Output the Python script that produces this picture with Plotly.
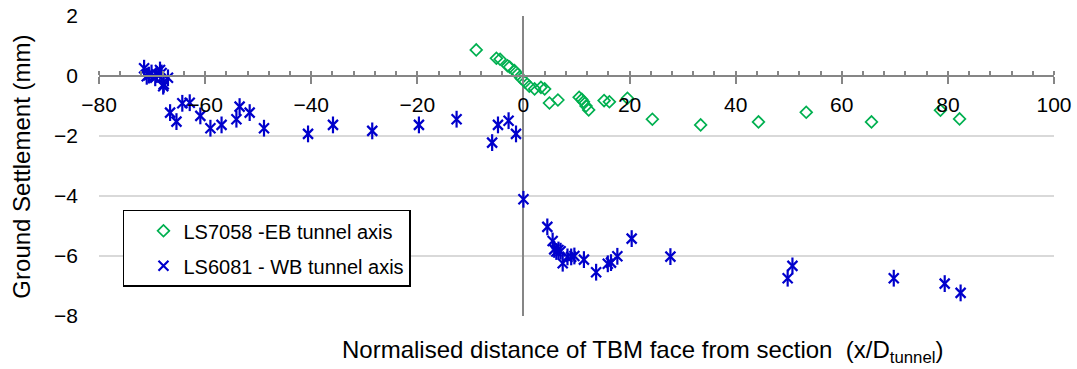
import plotly.graph_objects as go

# EB tunnel axis (LS7058) - diamonds
eb_x = [-8.9, -5.1, -4.4, -3.0, -2.6, -1.7, -1.1, -0.4, 0.3, 1.1, 2.1, 3.3, 4.0, 4.9, 6.5,
        10.5, 11.0, 11.3, 11.8, 12.3, 15.2, 16.2, 19.6, 24.3, 33.4, 44.3, 53.3, 65.6, 78.6, 82.2]
eb_y = [0.87, 0.59, 0.56, 0.34, 0.30, 0.18, 0.06, -0.08, -0.20, -0.34, -0.43, -0.38, -0.43, -0.90, -0.80,
        -0.71, -0.78, -0.86, -1.00, -1.13, -0.82, -0.86, -0.74, -1.44, -1.63, -1.53, -1.21, -1.53, -1.14, -1.43]

# WB tunnel axis (LS6081) - stars
wb_x = [-71.5, -71.0, -70.6, -70.1, -69.4, -69.1, -68.5, -68.2, -67.9, -67.8, -67.0, -66.6, -65.4,
        -64.3, -62.9, -60.9, -59.0, -56.9, -54.1, -53.5, -51.6, -48.9, -40.6, -35.9, -28.5, -19.7,
        -12.6, -5.9, -4.8, -2.8, -1.4, 0.0, 4.5, 5.5, 5.8, 6.2, 6.6, 7.0, 7.4, 8.3, 9.0, 9.6, 11.4,
        13.7, 15.9, 16.5, 17.7, 20.4, 27.7, 49.8, 50.7, 69.8, 79.4, 82.4]
wb_y = [0.26, -0.01, 0.03, 0.10, -0.06, 0.05, 0.20, 0.10, -0.34, -0.28, -0.06, -1.22, -1.52,
        -0.91, -0.89, -1.33, -1.74, -1.63, -1.44, -1.02, -1.22, -1.74, -1.93, -1.63, -1.83, -1.63,
        -1.44, -2.22, -1.63, -1.49, -1.93, -4.11, -5.03, -5.50, -5.78, -5.85, -5.80, -5.84, -6.24,
        -6.03, -6.03, -6.00, -6.12, -6.54, -6.26, -6.22, -6.01, -5.42, -6.02, -6.74, -6.33, -6.74,
        -6.92, -7.23]

eb_name = "LS7058 -EB tunnel axis"
wb_name = "LS6081 - WB tunnel axis"
x_title = "Normalised distance of TBM face from section  (x/D<sub>tunnel</sub>)"
y_title = "Ground Settlement (mm)"

FONT = "Liberation Sans, Arial, sans-serif"
GREEN = "#00B050"
BLUE = "#0000CC"
AXIS = "#868686"

fig = go.Figure()
fig.add_trace(go.Scatter(
    x=eb_x, y=eb_y, mode="markers", name=eb_name, legendgroup="eb",
    marker=dict(symbol="diamond-open", size=9, color=GREEN, line=dict(color=GREEN, width=1.7)),
))
fig.add_trace(go.Scatter(
    x=wb_x, y=wb_y, mode="markers", name=wb_name, legendgroup="wb",
    marker=dict(symbol="x-thin-open", size=10, color=BLUE, line=dict(color=BLUE, width=2.2)),
))
fig.add_trace(go.Scatter(
    x=wb_x, y=wb_y, mode="markers", showlegend=False, legendgroup="wb", hoverinfo="skip",
    marker=dict(symbol="line-ns-open", size=12, color=BLUE, line=dict(color=BLUE, width=2.2)),
))

fig.update_layout(
    width=1077, height=369,
    margin=dict(l=99, r=23, t=16, b=53, autoexpand=False),
    paper_bgcolor="white", plot_bgcolor="white",
    font=dict(family=FONT, size=21, color="black"),
    showlegend=True,
    legend=dict(
        x=0.0251, y=0.354, xanchor="left", yanchor="top",
        bgcolor="white", bordercolor="black", borderwidth=1.5,
        font=dict(family=FONT, size=20, color="black"),
        indentation=19, tracegroupgap=6, traceorder="grouped",
    ),
    xaxis=dict(
        range=[-80, 100], tick0=0, dtick=20,
        anchor="free", position=0.8, automargin=False,
        showgrid=False,
        zeroline=True, zerolinecolor=AXIS, zerolinewidth=1.5,
        showline=True, linecolor=AXIS, linewidth=1.5,
        ticks="outside", ticklen=7, tickwidth=1.5, tickcolor=AXIS,
        minor=dict(dtick=4, tick0=0, ticks="inside", ticklen=4, tickwidth=1.5, tickcolor=AXIS, showgrid=False),
        tickfont=dict(family=FONT, size=21, color="black"),
        ticklabelstandoff=3,
    ),
    yaxis=dict(
        range=[-8, 2], tick0=0, dtick=2, automargin=False,
        showgrid=True, gridcolor="#D9D9D9", gridwidth=1.5,
        zeroline=False, showline=False, ticks="",
        tickfont=dict(family=FONT, size=21, color="black"),
        ticklabelstandoff=20,
    ),
    annotations=[
        dict(text=x_title, xref="paper", yref="paper", x=0.5686, y=-0.118,
             xanchor="center", yanchor="middle", showarrow=False,
             font=dict(family=FONT, size=24, color="black")),
        dict(text=y_title, xref="paper", yref="paper", x=-0.0806, y=0.498,
             xanchor="center", yanchor="middle", showarrow=False, textangle=-90,
             font=dict(family=FONT, size=24, color="black")),
    ],
)

fig.write_html("out.html")
